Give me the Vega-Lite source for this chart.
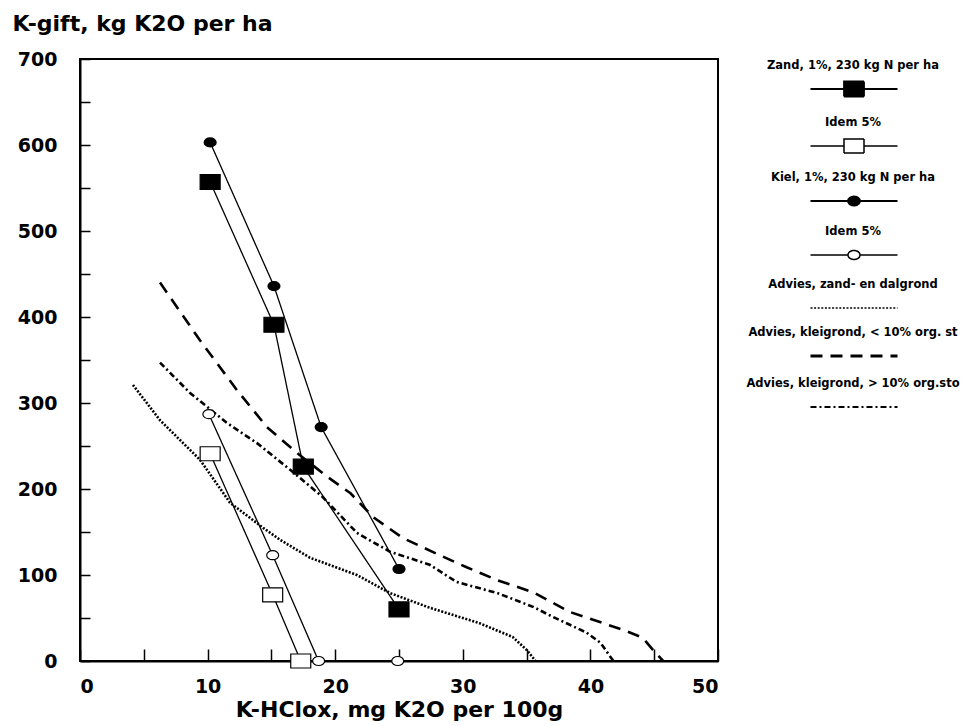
{
  "$schema": "https://vega.github.io/schema/vega-lite/v6.json",
  "width": 638,
  "height": 602,
  "autosize": {"type": "none"},
  "padding": {"left": 80, "top": 59, "right": 248, "bottom": 65},
  "background": "white",
  "config": {
    "font": "DejaVu Sans",
    "view": {"stroke": "black", "strokeWidth": 2},
    "axis": {
      "grid": false,
      "domainColor": "black",
      "domainWidth": 2,
      "tickColor": "black",
      "tickWidth": 1.5,
      "labelColor": "black",
      "labelFont": "DejaVu Sans",
      "labelFontSize": 19,
      "labelFontWeight": "bold",
      "titleColor": "black",
      "titleFont": "DejaVu Sans",
      "titleFontWeight": "bold"
    }
  },
  "data": {
    "values": [
      {"series": "Zand, 1%, 230 kg N per ha", "x": 10.2, "y": 557},
      {"series": "Zand, 1%, 230 kg N per ha", "x": 15.2, "y": 391},
      {"series": "Zand, 1%, 230 kg N per ha", "x": 17.5, "y": 226},
      {"series": "Zand, 1%, 230 kg N per ha", "x": 25.0, "y": 60},
      {"series": "Zand, 5%", "x": 10.2, "y": 241},
      {"series": "Zand, 5%", "x": 15.1, "y": 77},
      {"series": "Zand, 5%", "x": 17.3, "y": 0},
      {"series": "Kiel, 1%, 230 kg N per ha", "x": 10.2, "y": 603},
      {"series": "Kiel, 1%, 230 kg N per ha", "x": 15.2, "y": 436},
      {"series": "Kiel, 1%, 230 kg N per ha", "x": 18.9, "y": 272},
      {"series": "Kiel, 1%, 230 kg N per ha", "x": 25.0, "y": 107},
      {"series": "Kiel, 5%", "x": 10.1, "y": 287},
      {"series": "Kiel, 5%", "x": 15.1, "y": 123},
      {"series": "Kiel, 5%", "x": 18.7, "y": 0},
      {"series": "Kiel, 5%", "x": 24.9, "y": 0},
      {"series": "Advies, zand- en dalgrond", "x": 4.15, "y": 321},
      {"series": "Advies, zand- en dalgrond", "x": 6.27, "y": 280},
      {"series": "Advies, zand- en dalgrond", "x": 9.4, "y": 234},
      {"series": "Advies, zand- en dalgrond", "x": 11.76, "y": 184},
      {"series": "Advies, zand- en dalgrond", "x": 14.34, "y": 155},
      {"series": "Advies, zand- en dalgrond", "x": 15.67, "y": 141},
      {"series": "Advies, zand- en dalgrond", "x": 18.03, "y": 120},
      {"series": "Advies, zand- en dalgrond", "x": 21.7, "y": 100},
      {"series": "Advies, zand- en dalgrond", "x": 24.3, "y": 79},
      {"series": "Advies, zand- en dalgrond", "x": 27.4, "y": 62},
      {"series": "Advies, zand- en dalgrond", "x": 31.3, "y": 44},
      {"series": "Advies, zand- en dalgrond", "x": 33.9, "y": 28},
      {"series": "Advies, zand- en dalgrond", "x": 35.0, "y": 13},
      {"series": "Advies, zand- en dalgrond", "x": 35.7, "y": 0},
      {"series": "Advies, kleigrond, < 10% org. st", "x": 6.27, "y": 440},
      {"series": "Advies, kleigrond, < 10% org. st", "x": 9.4, "y": 373},
      {"series": "Advies, kleigrond, < 10% org. st", "x": 12.3, "y": 315},
      {"series": "Advies, kleigrond, < 10% org. st", "x": 14.65, "y": 272},
      {"series": "Advies, kleigrond, < 10% org. st", "x": 17.0, "y": 242},
      {"series": "Advies, kleigrond, < 10% org. st", "x": 19.4, "y": 214},
      {"series": "Advies, kleigrond, < 10% org. st", "x": 21.2, "y": 195},
      {"series": "Advies, kleigrond, < 10% org. st", "x": 23.0, "y": 167},
      {"series": "Advies, kleigrond, < 10% org. st", "x": 25.3, "y": 143},
      {"series": "Advies, kleigrond, < 10% org. st", "x": 28.2, "y": 123},
      {"series": "Advies, kleigrond, < 10% org. st", "x": 30.3, "y": 109},
      {"series": "Advies, kleigrond, < 10% org. st", "x": 32.7, "y": 94},
      {"series": "Advies, kleigrond, < 10% org. st", "x": 35.5, "y": 80},
      {"series": "Advies, kleigrond, < 10% org. st", "x": 38.4, "y": 57},
      {"series": "Advies, kleigrond, < 10% org. st", "x": 41.0, "y": 44},
      {"series": "Advies, kleigrond, < 10% org. st", "x": 42.6, "y": 36},
      {"series": "Advies, kleigrond, < 10% org. st", "x": 44.1, "y": 27},
      {"series": "Advies, kleigrond, < 10% org. st", "x": 44.9, "y": 13},
      {"series": "Advies, kleigrond, < 10% org. st", "x": 45.7, "y": 0},
      {"series": "Advies, kleigrond, > 10% org.sto", "x": 6.27, "y": 347},
      {"series": "Advies, kleigrond, > 10% org.sto", "x": 8.6, "y": 312},
      {"series": "Advies, kleigrond, > 10% org.sto", "x": 11.5, "y": 277},
      {"series": "Advies, kleigrond, > 10% org.sto", "x": 13.9, "y": 253},
      {"series": "Advies, kleigrond, > 10% org.sto", "x": 16.5, "y": 222},
      {"series": "Advies, kleigrond, > 10% org.sto", "x": 19.0, "y": 191},
      {"series": "Advies, kleigrond, > 10% org.sto", "x": 21.7, "y": 149},
      {"series": "Advies, kleigrond, > 10% org.sto", "x": 24.3, "y": 127},
      {"series": "Advies, kleigrond, > 10% org.sto", "x": 27.4, "y": 112},
      {"series": "Advies, kleigrond, > 10% org.sto", "x": 29.5, "y": 92},
      {"series": "Advies, kleigrond, > 10% org.sto", "x": 32.7, "y": 79},
      {"series": "Advies, kleigrond, > 10% org.sto", "x": 35.5, "y": 63},
      {"series": "Advies, kleigrond, > 10% org.sto", "x": 37.1, "y": 51},
      {"series": "Advies, kleigrond, > 10% org.sto", "x": 39.7, "y": 33},
      {"series": "Advies, kleigrond, > 10% org.sto", "x": 40.8, "y": 21},
      {"series": "Advies, kleigrond, > 10% org.sto", "x": 41.8, "y": 0}
    ]
  },
  "encoding": {
    "x": {
      "field": "x", "type": "quantitative",
      "scale": {"domain": [0, 50], "nice": false, "zero": false},
      "axis": {
        "values": [0, 5, 10, 15, 20, 25, 30, 35, 40, 45, 50],
        "labelExpr": "datum.value % 10 == 0 ? datum.label : ''",
        "tickSize": -12,
        "labelPadding": 28,
        "title": "K-HClox, mg K2O per 100g",
        "titleFontSize": 22,
        "titlePadding": 3
      }
    },
    "y": {
      "field": "y", "type": "quantitative",
      "scale": {"domain": [0, 700], "nice": false},
      "axis": {
        "values": [0, 50, 100, 150, 200, 250, 300, 350, 400, 450, 500, 550, 600, 650, 700],
        "labelExpr": "datum.value % 100 == 0 ? datum.label : ''",
        "tickSize": -10,
        "labelPadding": 33,
        "title": "K-gift, kg K2O per ha",
        "titleFontSize": 22,
        "titleAngle": 0,
        "titleAlign": "left",
        "titleBaseline": "middle",
        "titleX": -68,
        "titleY": -36
      }
    },
    "strokeDash": {
      "field": "series", "type": "nominal",
      "scale": {
        "domain": ["Zand, 1%, 230 kg N per ha", "Zand, 5%", "Kiel, 1%, 230 kg N per ha", "Kiel, 5%", "Advies, zand- en dalgrond", "Advies, kleigrond, < 10% org. st", "Advies, kleigrond, > 10% org.sto"],
        "range": [[1, 0], [1, 0], [1, 0], [1, 0], [2, 1.6], [12, 8], [6, 3, 2, 3]]
      },
      "legend": {
        "orient": "none",
        "legendX": 774,
        "legendY": 30,
        "title": null,
        "direction": "vertical",
        "columns": 1,
        "symbolSize": 400,
        "symbolStrokeColor": "black",
        "labelFont": "DejaVu Sans",
        "labelFontSize": 11.5,
        "labelFontWeight": "bold",
        "labelColor": "black",
        "labelLimit": 300,
        "rowPadding": 16,
        "labelExpr": "datum.label == 'Zand, 5%' || datum.label == 'Kiel, 5%' ? 'Idem 5%' : datum.label",
        "encode": {
          "symbols": {
            "update": {
              "shape": {"signal": "['M-4.35,0H-1M1,0H4.35M-1,-0.75H1V0.75H-1Z','M-4.35,0H-1M1,0H4.35M-1,-0.7H1V0.7H-1Z','M-4.35,0H-0.6M0.6,0H4.35M-0.6,0A0.6,0.45,0,1,1,0.6,0A0.6,0.45,0,1,1,-0.6,0Z','M-4.35,0H-0.6M0.6,0H4.35M-0.6,0A0.6,0.45,0,1,1,0.6,0A0.6,0.45,0,1,1,-0.6,0Z','M-4.35,0H4.35','M-4.35,0H4.35','M-4.35,0H4.35'][datum.index]"},
              "fill": {"signal": "datum.index == 0 || datum.index == 2 ? 'black' : 'white'"},
              "stroke": {"value": "black"},
              "strokeWidth": {"signal": "[1.8, 1.5, 1.8, 1.5, 1.5, 3, 2][datum.index]"},
              "size": {"value": 400},
              "opacity": {"value": 1}
            }
          },
          "labels": {
            "update": {
              "align": {"value": "center"},
              "x": {"value": -1},
              "dy": {"value": -23}
            }
          }
        }
      }
    }
  },
  "layer": [
    {
      "transform": [{"filter": {"field": "series", "oneOf": ["Advies, zand- en dalgrond", "Advies, kleigrond, < 10% org. st", "Advies, kleigrond, > 10% org.sto"]}}],
      "mark": {"type": "line", "stroke": "black", "strokeWidth": 2.6}
    },
    {
      "transform": [{"filter": {"field": "series", "oneOf": ["Zand, 1%, 230 kg N per ha", "Zand, 5%", "Kiel, 1%, 230 kg N per ha", "Kiel, 5%"]}}],
      "mark": {"type": "line", "stroke": "black", "strokeWidth": 1.3}
    },
    {
      "transform": [{"filter": {"field": "series", "oneOf": ["Zand, 1%, 230 kg N per ha", "Zand, 5%", "Kiel, 1%, 230 kg N per ha", "Kiel, 5%"]}}],
      "mark": {"type": "point", "filled": true, "stroke": "black", "strokeWidth": 1.2, "opacity": 1, "size": 400},
      "encoding": {
        "strokeDash": null,
        "shape": {
          "field": "series", "type": "nominal",
          "scale": {
            "domain": ["Zand, 1%, 230 kg N per ha", "Zand, 5%", "Kiel, 1%, 230 kg N per ha", "Kiel, 5%"],
            "range": ["M-1,-0.75H1V0.75H-1Z", "M-1,-0.7H1V0.7H-1Z", "M-0.6,0A0.6,0.45,0,1,1,0.6,0A0.6,0.45,0,1,1,-0.6,0Z", "M-0.6,0A0.6,0.45,0,1,1,0.6,0A0.6,0.45,0,1,1,-0.6,0Z"]
          },
          "legend": null
        },
        "fill": {
          "field": "series", "type": "nominal",
          "scale": {
            "domain": ["Zand, 1%, 230 kg N per ha", "Zand, 5%", "Kiel, 1%, 230 kg N per ha", "Kiel, 5%"],
            "range": ["black", "white", "black", "white"]
          },
          "legend": null
        }
      }
    }
  ]
}
